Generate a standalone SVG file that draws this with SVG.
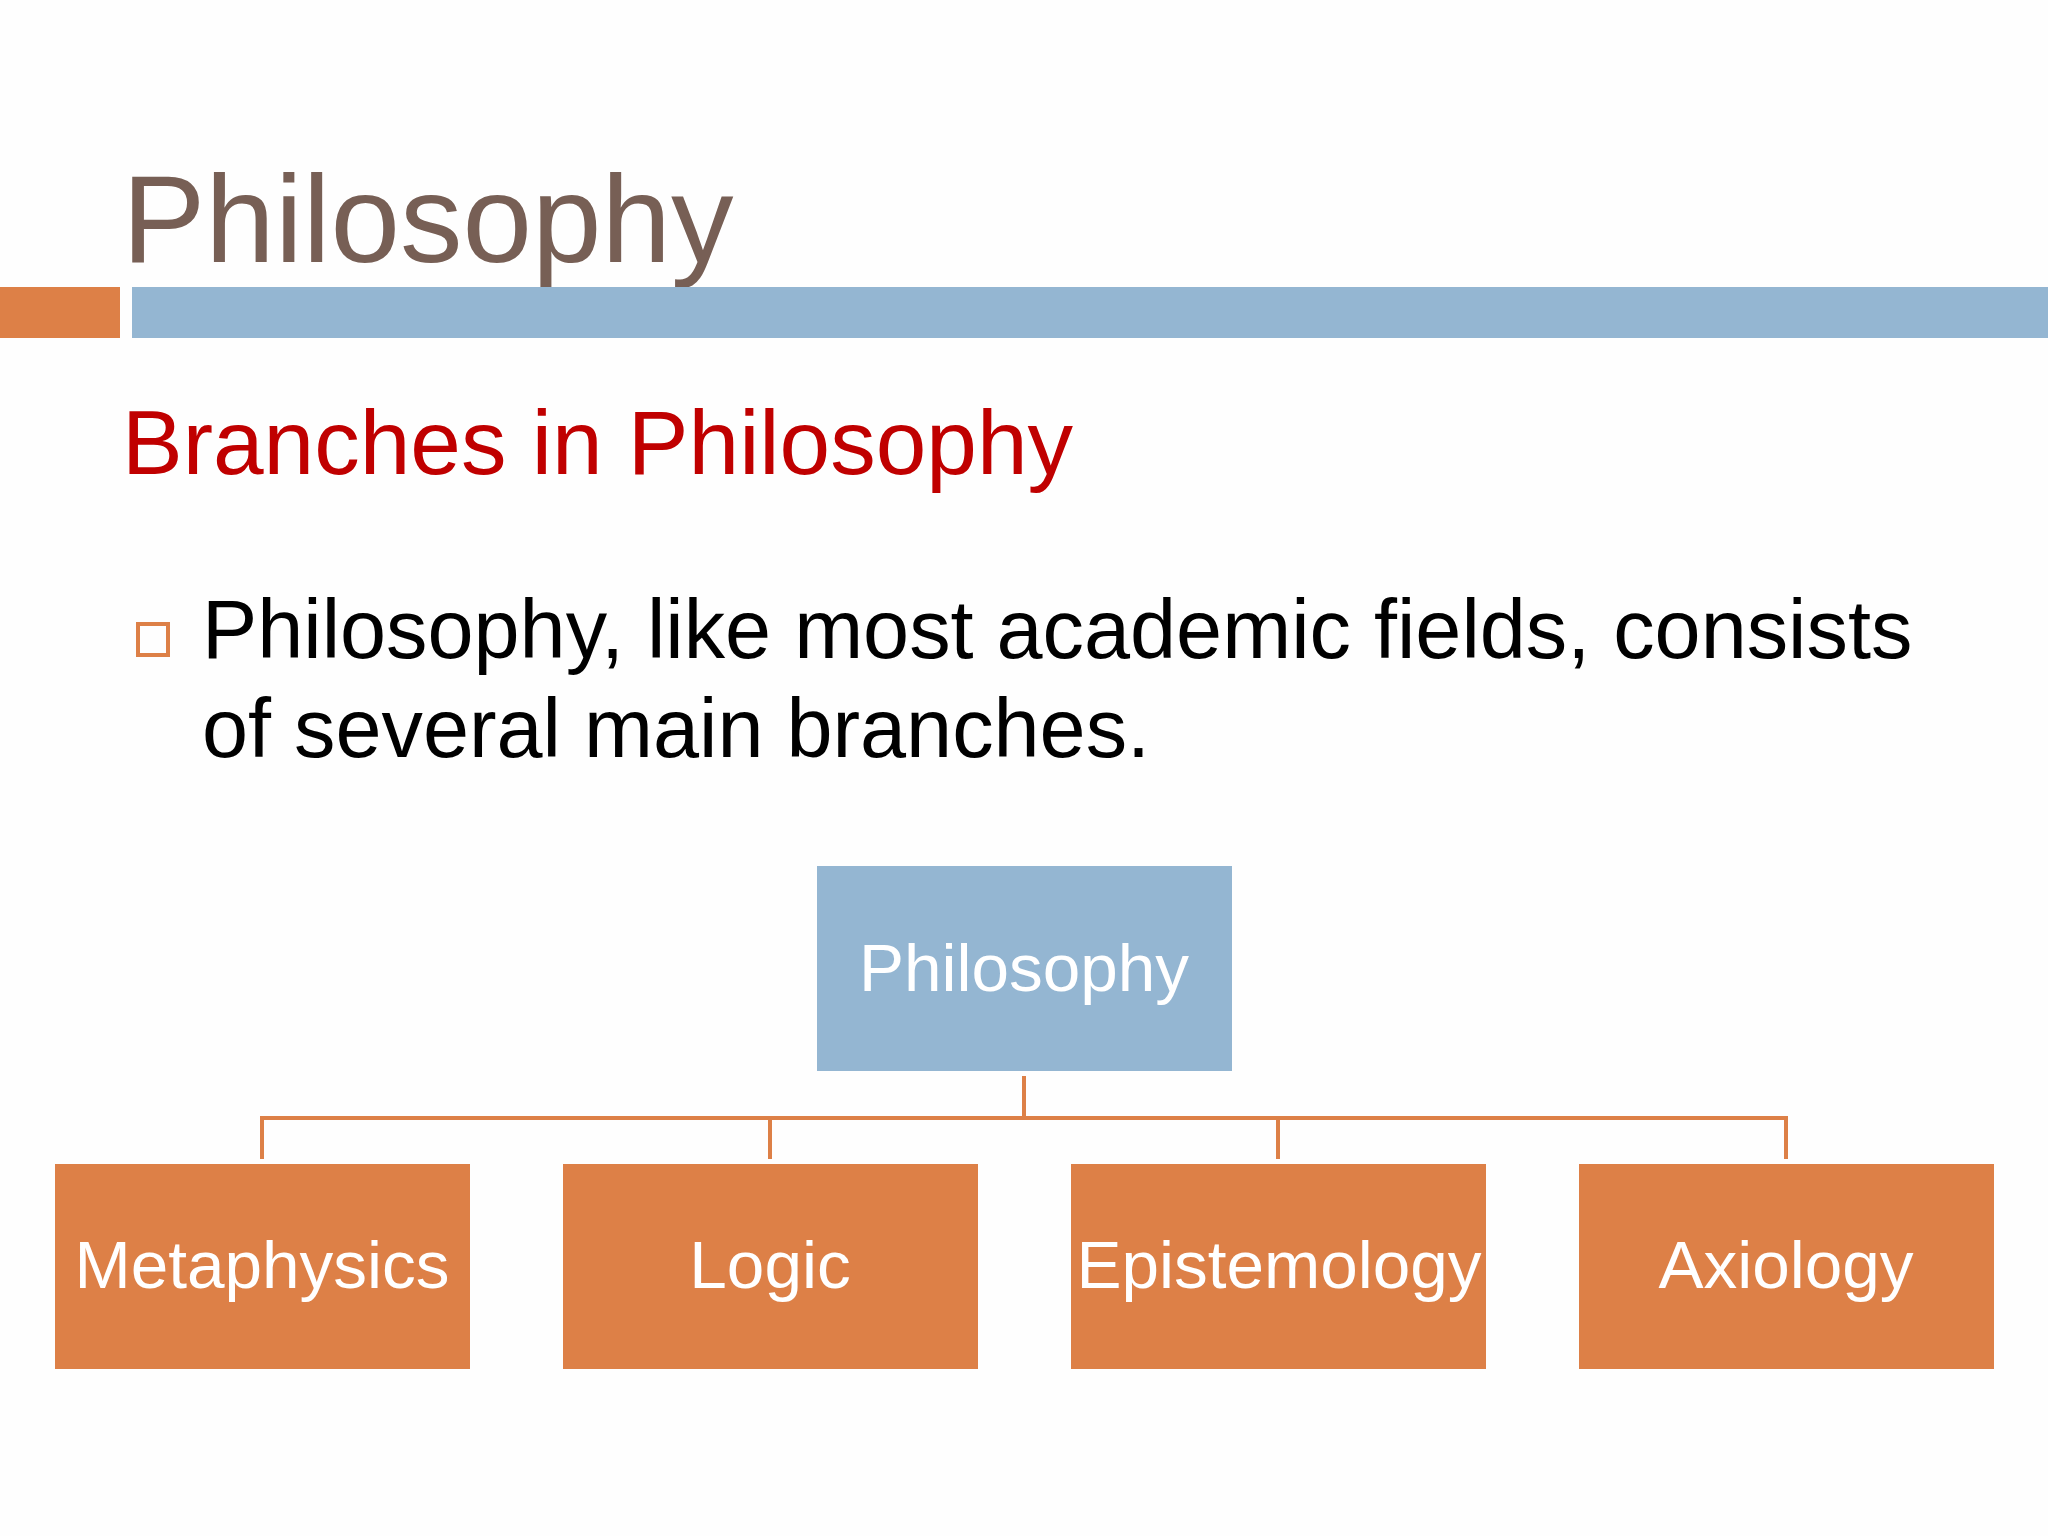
<svg xmlns="http://www.w3.org/2000/svg" width="2048" height="1536" viewBox="0 0 2048 1536">
<style>
.t{font-family:"Liberation Sans",Arial,sans-serif}
.lbl{font-family:"Liberation Sans",Arial,sans-serif;font-size:67.5px;fill:#FFFFFF;text-anchor:middle}
.leaf{fill:#DD8047}
.conn{stroke:#DD8047;stroke-width:4;fill:none}
</style>
<rect x="0" y="0" width="2048" height="1536" fill="#FEFEFE"/>
<text class="t" x="122" y="262" font-size="125" fill="#775F55">Philosophy</text>
<rect x="0" y="287" width="120" height="51" fill="#DD8047"/>
<rect x="132" y="287" width="1916" height="51" fill="#94B6D2"/>
<text class="t" x="122" y="474" font-size="91" fill="#C00000">Branches in Philosophy</text>
<rect x="138" y="624" width="30" height="31" fill="none" stroke="#DD8047" stroke-width="4"/>
<text class="t" x="202" y="658" font-size="82.8" fill="#000000">Philosophy, like most academic fields, consists</text>
<text class="t" x="202" y="757" font-size="82.8" fill="#000000">of several main branches.</text>
<g id="connectors">
<path class="conn" d="M1024 1076 V1118 M262 1159 V1118 H1786 V1159 M770 1118 V1159 M1278 1118 V1159"/>
</g>
<g id="node-philosophy">
<rect x="817" y="866" width="415" height="205" fill="#94B6D2"/>
<text class="lbl" x="1024" y="991">Philosophy</text>
</g>
<g id="node-metaphysics">
<rect class="leaf" x="55" y="1164" width="415" height="205"/>
<text class="lbl" x="262" y="1288">Metaphysics</text>
</g>
<g id="node-logic">
<rect class="leaf" x="563" y="1164" width="415" height="205"/>
<text class="lbl" x="770" y="1288">Logic</text>
</g>
<g id="node-epistemology">
<rect class="leaf" x="1071" y="1164" width="415" height="205"/>
<text class="lbl" x="1279" y="1288">Epistemology</text>
</g>
<g id="node-axiology">
<rect class="leaf" x="1579" y="1164" width="415" height="205"/>
<text class="lbl" x="1786" y="1288">Axiology</text>
</g>
</svg>
